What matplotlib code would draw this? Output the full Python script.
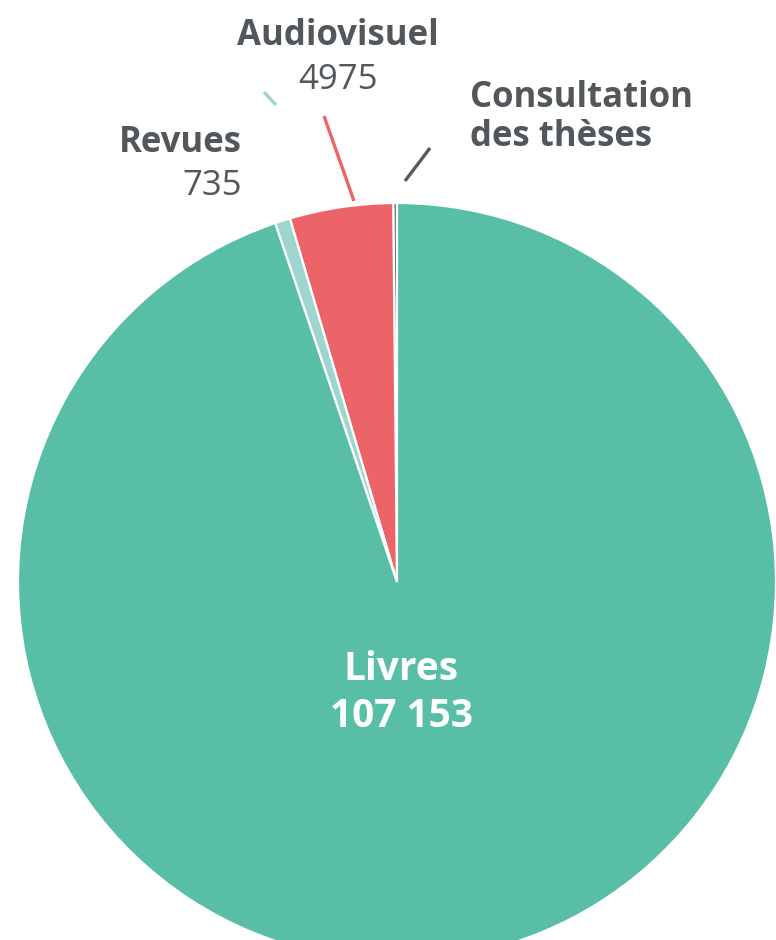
import numpy as np
import matplotlib
matplotlib.use("Agg")
import matplotlib.pyplot as plt

plt.rcParams['font.family'] = ['Open Sans', 'DejaVu Sans']

# Data (counter-clockwise from 12 o'clock)
categories = ["Consultation\ndes thèses", "Audiovisuel", "Revues", "Livres"]
values = [180, 4975, 735, 107153]
value_labels = ["", "4975", "735", "107 153"]
colors = ["#555a5e", "#ec6468", "#9ed5cf", "#58bea6"]

W, H = 776, 940
fig = plt.figure(figsize=(W / 100, H / 100), dpi=100)
ax = fig.add_axes([0, 0, 1, 1])

cx, cy, R = 397, H - 582, 379
wedges, _ = ax.pie(values, colors=colors, startangle=90, counterclock=True,
                   center=(cx, cy), radius=R,
                   wedgeprops=dict(edgecolor="white", linewidth=1.6))
ax.set_xlim(0, W)
ax.set_ylim(0, H)
ax.set_aspect('equal')
ax.axis('off')

txt = "#52575b"
fs = 25
fs_in = 28

# connector lines (label decorations): (start, end) in pixels
connectors = {
    0: ((405, 181), (430, 148)),
    1: ((354, 201), (324, 116)),
    2: ((276, 105), (264, 92)),
}
for i, ((x0, y0), (x1, y1)) in connectors.items():
    ax.plot([x0, x1], [H - y0, H - y1], color=colors[i], lw=2.4,
            solid_capstyle='butt')

# labels (baseline-anchored)
ax.text(338, H - 45, categories[1], ha='center', va='baseline',
        fontsize=fs, fontweight='bold', color=txt)
ax.text(338, H - 89, value_labels[1], ha='center', va='baseline',
        fontsize=fs, color=txt)

ax.text(242, H - 152, categories[2], ha='right', va='baseline',
        fontsize=fs, fontweight='bold', color=txt)
ax.text(242, H - 195, value_labels[2], ha='right', va='baseline',
        fontsize=fs, color=txt)

for k, line in enumerate(categories[0].split("\n")):
    ax.text(470, H - (107 + 39 * k), line, ha='left', va='baseline',
            fontsize=fs, fontweight='bold', color=txt)

ax.text(401, H - 680, categories[3], ha='center', va='baseline',
        fontsize=fs_in, fontweight='bold', color='white')
ax.text(401, H - 727, value_labels[3], ha='center', va='baseline',
        fontsize=fs_in, fontweight='bold', color='white')

fig.savefig("out.png", dpi=100)
